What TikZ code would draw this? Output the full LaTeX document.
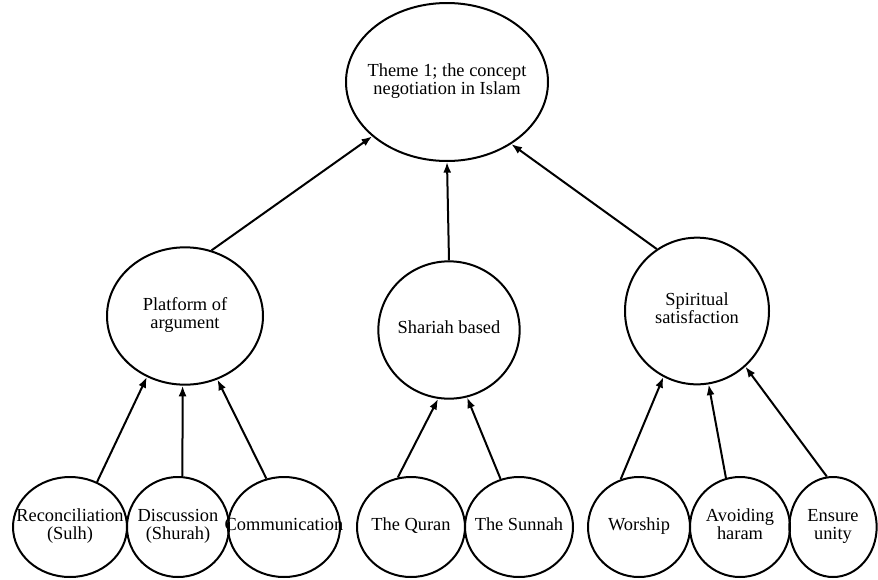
\documentclass[tikz,border=0pt]{standalone}
\usepackage{fontspec}
\setmainfont{Liberation Serif}
\usetikzlibrary{shapes.geometric,arrows.meta}
% text that does not widen the bubble
\newcommand{\cl}[1]{\makebox[0pt]{\begin{tabular}{@{}c@{}}#1\end{tabular}}}
\tikzset{
  bubble/.style={draw, ellipse, line width=1.5pt, inner sep=0pt,
    font=\fontsize{13.8}{13.5}\selectfont},
  themebox/.style={bubble, minimum width=151.5pt, minimum height=118.5pt},
  branchbox/.style={bubble, minimum width=112pt, minimum height=104pt},
  leafbox/.style={bubble, minimum width=78pt, minimum height=75pt},
  link/.style={line width=1.5pt, -{Latex[length=8pt,width=6pt]}}
}
\begin{document}
\begin{tikzpicture}[x=0.75pt, y=-0.75pt]
    \useasboundingbox (0,0) rectangle (878,579);
    % theme
    \node[themebox] (theme) at (447,82) {\cl{Theme 1; the concept\\negotiation in Islam}};
    % branches
    \node[branchbox, minimum width=117pt, minimum height=103pt] (plat) at (185,316) {\cl{Platform of\\argument}};
    \node[branchbox, minimum width=106pt, minimum height=103pt] (shar) at (449,330) {\cl{Shariah based}};
    \node[branchbox, minimum width=108pt, minimum height=110pt] (spir) at (697,311) {\cl{Spiritual\\satisfaction}};
    % leaves
    \node[leafbox, minimum width=85.5pt] (rec) at (70,527) {\cl{Reconciliation\\(Sulh)}};
    \node[leafbox, minimum width=76.5pt] (disc) at (178,527) {\cl{Discussion\\(Shurah)}};
    \node[leafbox, minimum width=84pt] (comm) at (284,527) {\cl{Communication}};
    \node[leafbox, minimum width=81pt] (quran) at (411,527) {\cl{The Quran}};
    \node[leafbox, minimum width=81pt] (sunnah) at (519,527) {\cl{The Sunnah}};
    \node[leafbox, minimum width=76.5pt] (worship) at (639,527) {\cl{Worship}};
    \node[leafbox, minimum width=75pt] (avoid) at (740,527) {\cl{Avoiding\\haram}};
    \node[leafbox, minimum width=65.5pt] (ensure) at (833,527) {\cl{Ensure\\unity}};
    % arrows go up
    \foreach \a/\b in {plat.68/theme.216, shar.north/theme.south, spir.123/theme.316,
        rec.59/plat.238, disc.85/plat.268, comm.110/plat.297,
        quran.105/shar.261, sunnah.111/shar.285,
        worship.111/spir.243, avoid.106/spir.279, ensure.97/spir.311}{
        \draw[link] (\a) -- (\b);
    }
\end{tikzpicture}
\end{document}
